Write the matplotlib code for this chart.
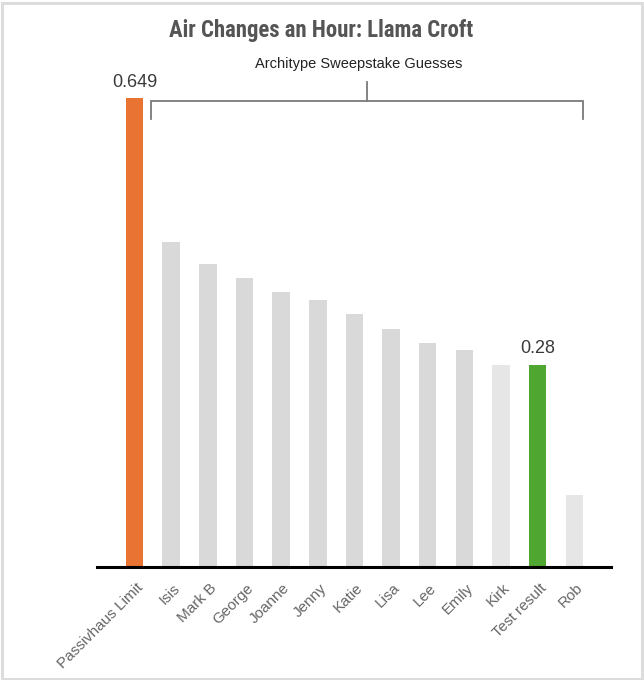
import matplotlib
matplotlib.use("Agg")
import matplotlib.pyplot as plt
from matplotlib import font_manager
from matplotlib.transforms import ScaledTranslation
from matplotlib.patches import Rectangle

names = ["Passivhaus Limit", "Isis", "Mark B", "George", "Joanne", "Jenny",
         "Katie", "Lisa", "Lee", "Emily", "Kirk", "Test result", "Rob"]
values = [0.649, 0.45, 0.42, 0.40, 0.38, 0.37, 0.35, 0.33, 0.31, 0.30, 0.28, 0.28, 0.10]
colors = ["#E87333", "#D9D9D9", "#D9D9D9", "#D9D9D9", "#D9D9D9", "#D9D9D9",
          "#D9D9D9", "#D9D9D9", "#D9D9D9", "#D9D9D9", "#E6E6E6", "#4FA630", "#E6E6E6"]
labelled = {0: "0.649", 11: "0.28"}
title = "Air Changes an Hour: Llama Croft"
bracket_text = "Architype Sweepstake Guesses"

installed = {f.name for f in font_manager.fontManager.ttflist}
narrow = next((f for f in ["Roboto Condensed", "Archivo Narrow", "PT Sans Narrow",
                           "Liberation Sans Narrow"] if f in installed), "DejaVu Sans")
plt.rcParams["font.family"] = ["Liberation Sans", "DejaVu Sans"]

fig = plt.figure(figsize=(6.44, 6.80), dpi=100)
ax = fig.add_axes([97 / 644, 113 / 680, 514 / 644, 505.8 / 680])

x = list(range(len(names)))
ax.bar(x, values, width=0.48, color=colors, zorder=1)
ax.set_xlim(-1.02, 13.0)
ax.set_ylim(0, 0.70)

for s in ["top", "right", "left"]:
    ax.spines[s].set_visible(False)
ax.spines["bottom"].set_linewidth(2.2)
ax.spines["bottom"].set_color("black")
ax.spines["bottom"].set_zorder(3)
ax.set_yticks([])
ax.set_xticks(x)
ax.set_xticklabels(names, rotation=45, ha="right", va="top",
                   rotation_mode="anchor", fontsize=11, color="#666666")
ax.tick_params(axis="x", length=0, pad=10)
shift = ScaledTranslation(1.5 / 100, 0, fig.dpi_scale_trans)
for lab in ax.get_xticklabels():
    lab.set_transform(lab.get_transform() + shift)

for i, txt in labelled.items():
    ax.annotate(txt, (i, values[i]), xytext=(0, 8.3), textcoords="offset points",
                ha="center", va="baseline", fontsize=13, color="#3a3a3a",
                annotation_clip=False)

# bracket over the guesses
bx0, bx1, bmid = 0.44, 12.23, 6.34
ax.plot([bx0, bx0, bx1, bx1], [0.620, 0.645, 0.645, 0.620], color="#7a7a7a",
        lw=1.3, clip_on=False, solid_joinstyle="miter")
ax.plot([bmid, bmid], [0.645, 0.671], color="#7a7a7a", lw=1.3, clip_on=False)
ax.text(6.12, 0.690, bracket_text, ha="center", va="baseline", fontsize=10.5,
        color="#222222")

fig.text(321 / 644, 1 - 37 / 680, title, ha="center", va="baseline",
         fontsize=16.4, fontweight="bold", color="#555555", family=[narrow, "DejaVu Sans"])

fig.patches.append(Rectangle((1.5 / 644, 1.5 / 680), 640 / 644, 676 / 680,
                             transform=fig.transFigure, fill=False,
                             edgecolor="#dcdcdc", lw=2.2))

fig.savefig("out.png", dpi=100)
